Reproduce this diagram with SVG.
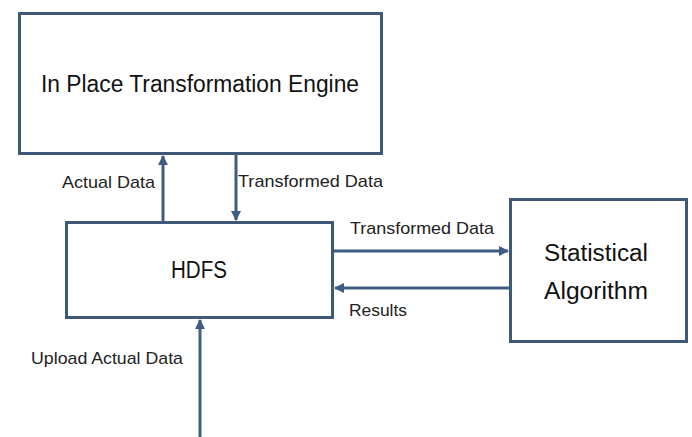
<svg xmlns="http://www.w3.org/2000/svg" width="692" height="437" viewBox="0 0 692 437">
<style>
.box{fill:#fff;stroke:#3e5878;stroke-width:3}
.lbl{font-family:"Liberation Sans",Arial,sans-serif;font-size:17px;fill:#222}
.big{font-family:"Liberation Sans",Arial,sans-serif;font-size:23px;fill:#111}
.c{stroke:#3e5c82;stroke-width:3;fill:none}
</style>
<defs>
<marker id="ah" viewBox="0 0 10 10" refX="9" refY="5" markerWidth="3.5" markerHeight="3.5" orient="auto" markerUnits="strokeWidth">
<path d="M0,0 L10,5 L0,10 z" fill="#3e5c82"/>
</marker>
</defs>
<rect width="692" height="437" fill="#fff"/>
<g id="engine">
<rect class="box" x="19.5" y="13.5" width="362" height="140"/>
<text class="big" x="200" y="92" text-anchor="middle" textLength="318" lengthAdjust="spacingAndGlyphs">In Place Transformation Engine</text>
</g>
<g id="hdfs">
<rect class="box" x="66.5" y="222.5" width="266" height="95"/>
<text class="big" x="199" y="278" text-anchor="middle" textLength="56" lengthAdjust="spacingAndGlyphs">HDFS</text>
</g>
<g id="stat">
<rect class="box" x="510.5" y="199.5" width="176" height="142"/>
<text class="big" x="596" y="261" text-anchor="middle" textLength="104" lengthAdjust="spacingAndGlyphs">Statistical</text>
<text class="big" x="596" y="299" text-anchor="middle" textLength="104" lengthAdjust="spacingAndGlyphs">Algorithm</text>
</g>
<g id="connectors">
<line class="c" x1="163" y1="222" x2="163" y2="156" marker-end="url(#ah)"/>
<line class="c" x1="236" y1="154" x2="236" y2="220" marker-end="url(#ah)"/>
<line class="c" x1="333" y1="251" x2="508" y2="251" marker-end="url(#ah)"/>
<line class="c" x1="510" y1="288" x2="335" y2="288" marker-end="url(#ah)"/>
<line class="c" x1="200" y1="437" x2="200" y2="320" marker-end="url(#ah)"/>
</g>
<g id="labels">
<text class="lbl" x="62" y="188" textLength="93" lengthAdjust="spacingAndGlyphs">Actual Data</text>
<text class="lbl" x="238" y="187" textLength="145" lengthAdjust="spacingAndGlyphs">Transformed Data</text>
<text class="lbl" x="350" y="234" textLength="144" lengthAdjust="spacingAndGlyphs">Transformed Data</text>
<text class="lbl" x="349" y="316" textLength="58" lengthAdjust="spacingAndGlyphs">Results</text>
<text class="lbl" x="31" y="364" textLength="152" lengthAdjust="spacingAndGlyphs">Upload Actual Data</text>
</g>
</svg>
